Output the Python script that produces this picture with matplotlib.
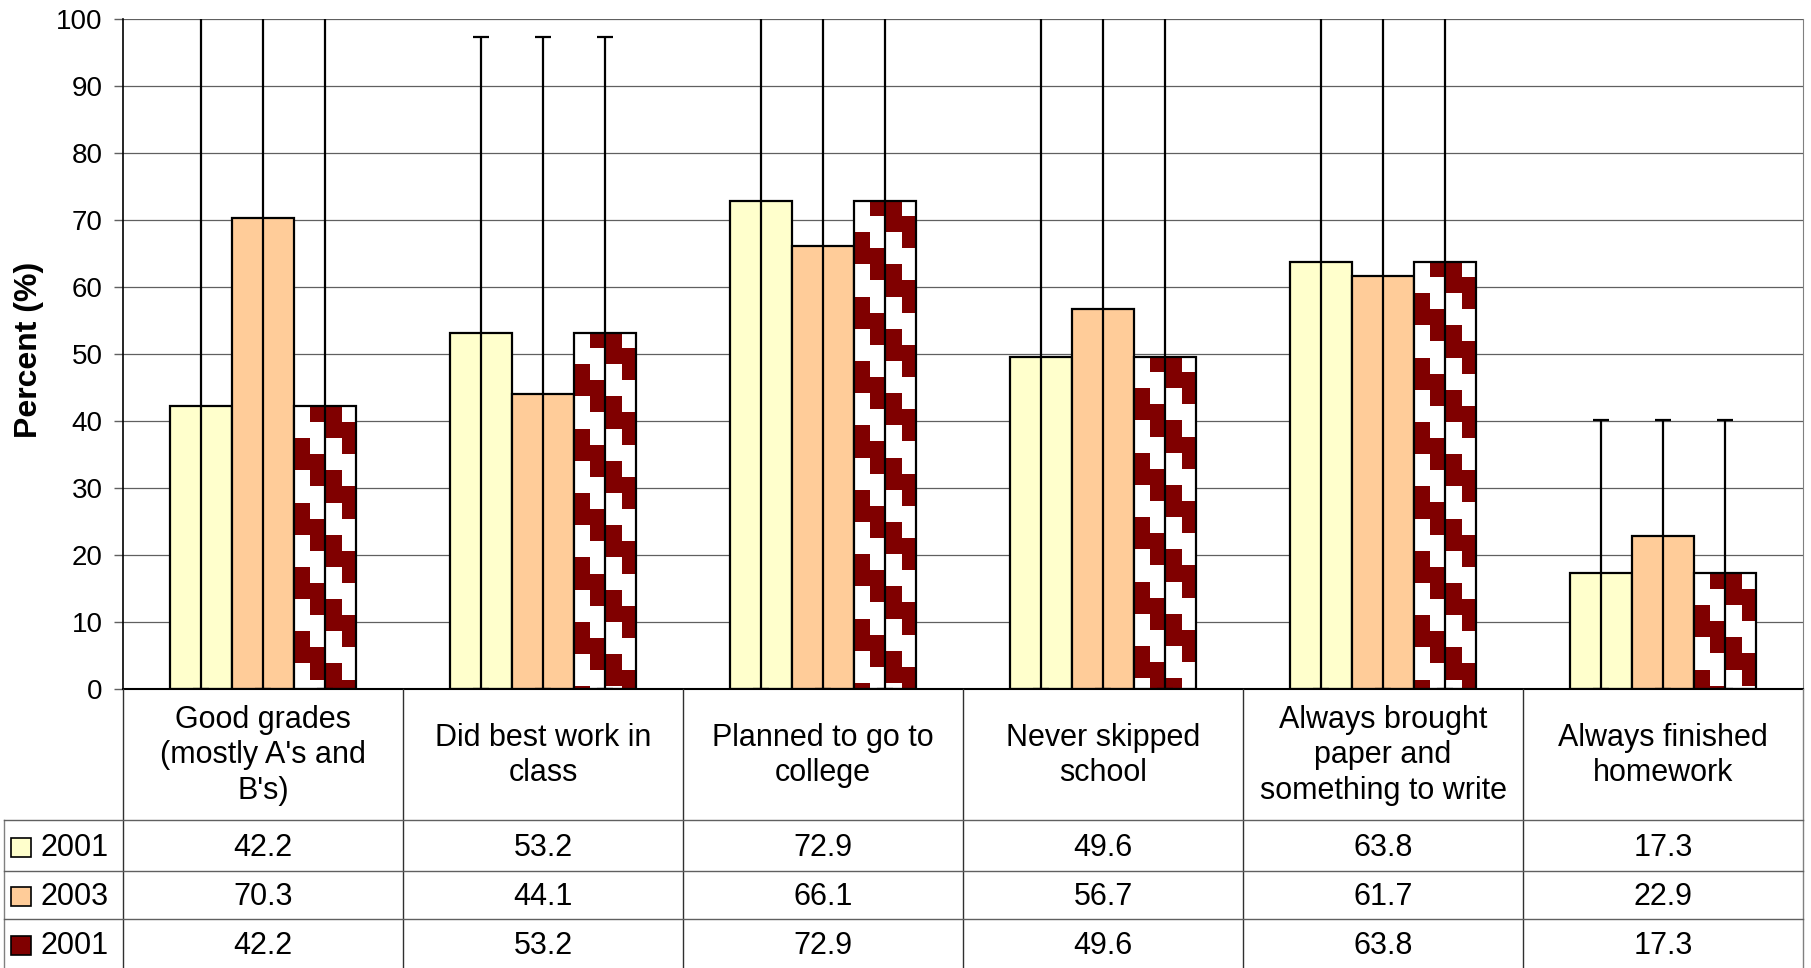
import numpy as np
import matplotlib
matplotlib.use("Agg")
import matplotlib.pyplot as plt
from matplotlib.patches import Rectangle
from matplotlib.colors import ListedColormap

plt.rcParams['font.family'] = ['Liberation Sans', 'DejaVu Sans']

categories = ["Good grades\n(mostly A's and\nB's)", "Did best work in\nclass",
              "Planned to go to\ncollege", "Never skipped\nschool",
              "Always brought\npaper and\nsomething to write", "Always finished\nhomework"]
series_names = ["2001", "2003", "2001"]
vals_2001 = [42.2, 53.2, 72.9, 49.6, 63.8, 17.3]
vals_2003 = [70.3, 44.1, 66.1, 56.7, 61.7, 22.9]
vals_2001b = [42.2, 53.2, 72.9, 49.6, 63.8, 17.3]
# upper end of the error bars (first, third, fourth, fifth run past the top of the axis)
err_top = [110, 97.3, 110, 110, 110, 40.2]

colors = ["#FFFFCC", "#FFCC99", "#800000"]
series = [vals_2001, vals_2003, vals_2001b]

W, H = 1811, 968
fig = plt.figure(figsize=(W / 100, H / 100), dpi=100)

ax_l, ax_r, ax_t, ax_b = 123, 1803, 19, 689
ax = fig.add_axes([ax_l / W, (H - ax_b) / H, (ax_r - ax_l) / W, (ax_b - ax_t) / H])

n = len(categories)
x = np.arange(n)
bw = 62 / 280

pattern_cmap = ListedColormap(["white", "#800000"])
for i, vals in enumerate(series):
    xs = x + (i - 1) * bw
    if i < 2:
        ax.bar(xs, vals, bw, color=colors[i], edgecolor="black", linewidth=1.6, zorder=2)
    else:
        bars = ax.bar(xs, vals, bw, color="white", edgecolor="none", zorder=2)
        cell_w = bw / 3.9
        cell_h = 2.4
        for b, v in zip(bars, vals):
            x0 = b.get_x()
            ny = int(np.ceil(v / cell_h))
            rr, cc = np.mgrid[0:ny, 0:4]
            img = ((cc - rr) % 4 >= 1) & ((cc - rr) % 4 <= 2)
            im = ax.imshow(img.astype(int), cmap=pattern_cmap, vmin=0, vmax=1,
                           extent=(x0, x0 + 4 * cell_w, v - ny * cell_h, v),
                           origin="upper", aspect="auto", interpolation="nearest", zorder=2.1)
            im.set_clip_path(b)
        ax.bar(xs, vals, bw, fill=False, edgecolor="black", linewidth=1.6, zorder=2.2)
    tops = np.array(err_top)
    v = np.array(vals)
    ax.errorbar(xs, v, yerr=[v, tops - v], fmt="none", ecolor="black",
                elinewidth=1.6, capsize=5.5, capthick=1.6, zorder=3)

ax.set_xlim(-0.5, n - 0.5)
ax.set_ylim(0, 100)
ax.set_yticks(np.arange(0, 101, 10))
ax.set_xticks([])
ax.tick_params(axis="y", labelsize=20, length=6.5, width=1, pad=8, color="#606060",
               labelcolor="black")
ax.grid(axis="y", color="#606060", linewidth=0.9)
ax.set_axisbelow(True)
ax.spines["top"].set_visible(False)
ax.spines["right"].set_color("#808080")
ax.spines["left"].set_linewidth(1.2)
ax.spines["bottom"].set_linewidth(1.5)
fig.text(29 / W, 1 - 350 / H, "Percent (%)", rotation=90, ha="center", va="center",
         fontsize=23, fontweight="bold")

# data table below the plot
leg = 119 / 280
tb = fig.add_axes([4 / W, 0, (ax_r - 4) / W, (H - ax_b) / H])
tb.set_xlim(-0.5 - leg, n - 0.5)
tb.set_ylim(H - ax_b, 0)
tb.axis("off")
row_edges = [0, 131, 182, 230, 279]
xl = -0.5 - leg
for k in range(n + 1):
    tb.plot([k - 0.5, k - 0.5], [0, 279], color="#303030" if k < n else "#808080",
            linewidth=1.0, clip_on=False)
tb.plot([xl, xl], [131, 279], color="#808080", linewidth=1.0, clip_on=False)
for yy in row_edges[1:4]:
    tb.plot([xl, n - 0.5], [yy, yy], color="#606060", linewidth=1.0, clip_on=False)

for k, lab in enumerate(categories):
    tb.text(k, (row_edges[0] + row_edges[1]) / 2 + 1, lab, ha="center", va="center",
            fontsize=22, linespacing=1.25)
for r, vals in enumerate(series):
    yc = (row_edges[r + 1] + row_edges[r + 2]) / 2
    for k, v in enumerate(vals):
        tb.text(k, yc + 2, f"{v:.1f}", ha="center", va="center", fontsize=22)
    sw = 20 / 280
    tb.add_patch(Rectangle((xl + 7 / 280, yc - 8), sw, 19, facecolor=colors[r],
                           edgecolor="black", linewidth=1.2, clip_on=False))
    tb.text(xl + 36 / 280, yc + 2, series_names[r], ha="left", va="center", fontsize=22)

fig.savefig("out.png", dpi=100)
